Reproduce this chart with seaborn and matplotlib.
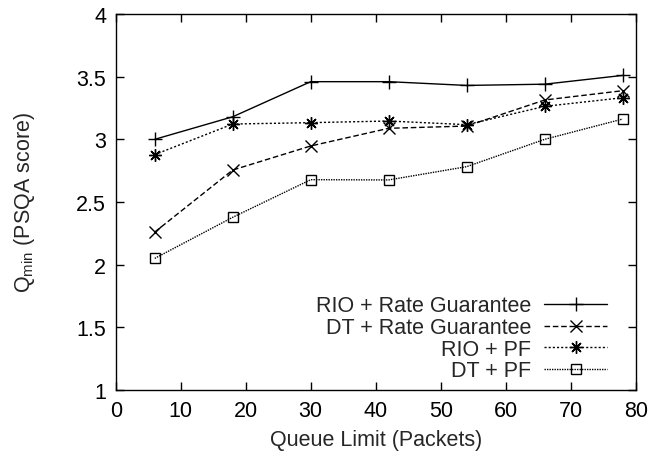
import pandas as pd
import matplotlib
matplotlib.use("Agg")
import matplotlib.pyplot as plt
import seaborn as sns

sns.set_style("ticks")
plt.rcParams['font.family'] = ['Liberation Sans', 'DejaVu Sans']

# data
queue_limit = [6, 18, 30, 42, 54, 66, 78]
rio_rate = [3.00, 3.18, 3.46, 3.46, 3.43, 3.44, 3.51]
dt_rate = [2.26, 2.755, 2.947, 3.088, 3.106, 3.314, 3.388]
rio_pf = [2.878, 3.122, 3.133, 3.146, 3.117, 3.263, 3.332]
dt_pf = [2.05, 2.378, 2.678, 2.676, 2.782, 3.00, 3.162]

series_names = ["RIO + Rate Guarantee", "DT + Rate Guarantee", "RIO + PF", "DT + PF"]
series_values = [rio_rate, dt_rate, rio_pf, dt_pf]

rows = []
for name, vals in zip(series_names, series_values):
    for x, y in zip(queue_limit, vals):
        rows.append({"Queue": x, "Q": y, "Series": name})
df = pd.DataFrame(rows)

# gnuplot-like line/point styles
styles = {
    "RIO + Rate Guarantee": dict(marker="+", linestyle="-", ms=10),
    "DT + Rate Guarantee": dict(marker="x", linestyle=(0, (4, 2)), ms=8),
    "RIO + PF": dict(marker=(8, 2, 0), linestyle=(0, (1.5, 1.5)), ms=9),
    "DT + PF": dict(marker="s", linestyle=(0, (1, 0.8)), ms=7, mfc="none"),
}

FS = 15.5

fig = plt.figure(figsize=(6.52, 4.6), dpi=100)
ax = fig.add_axes([0.1775, 0.15, 0.7975, 0.8174])

for name in series_names:
    st = styles[name]
    sns.lineplot(data=df[df["Series"] == name], x="Queue", y="Q", ax=ax,
                 color="black", linewidth=1, label=name,
                 marker=st["marker"], linestyle=st["linestyle"],
                 markersize=st["ms"], markeredgewidth=1,
                 markerfacecolor=st.get("mfc", "black"),
                 markeredgecolor="black")

ax.set_xlim(0, 80)
ax.set_ylim(1, 4)
ax.set_xticks(range(0, 81, 10))
ax.set_yticks([1, 1.5, 2, 2.5, 3, 3.5, 4])
ax.set_yticklabels(["1", "1.5", "2", "2.5", "3", "3.5", "4"])
ax.tick_params(direction="in", length=6, width=1, top=True, right=True,
               labelsize=FS, pad=7, colors="black")
for sp in ax.spines.values():
    sp.set_visible(True)
    sp.set_linewidth(1)
    sp.set_color("black")

ax.set_xlabel("Queue Limit (Packets)", fontsize=FS, labelpad=6)
ax.set_ylabel(r"Q$_{\mathregular{min}}$ (PSQA score)", fontsize=FS, labelpad=28)

ax.legend(loc="lower right", markerfirst=False, frameon=False, fontsize=FS,
          handlelength=2.95, labelspacing=0.03, borderaxespad=0,
          handletextpad=0.6, bbox_to_anchor=(0.962, 0.0))

fig.savefig("out.png", dpi=100)
